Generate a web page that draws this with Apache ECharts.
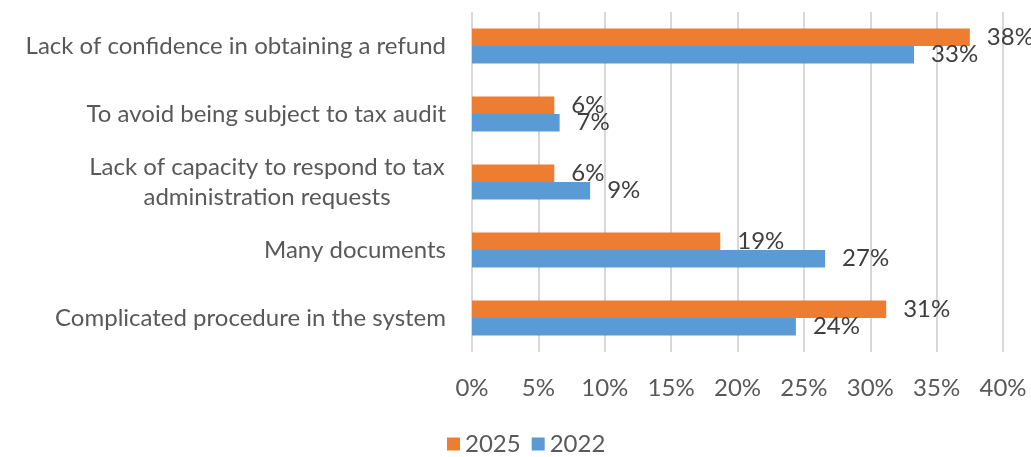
<!DOCTYPE html>
<html>
<head>
<meta charset="utf-8">
<script src="https://cdn.jsdelivr.net/npm/echarts@6/dist/echarts.min.js"></script>
<style>
  html, body { margin: 0; padding: 0; background: #fff; }
  #chart { width: 1031px; height: 457px; }
</style>
</head>
<body>
<div id="chart"></div>
<script>
// categories listed bottom -> top (category axis starts at the bottom)
const categories = [
  'Complicated procedure in the system',
  'Many documents',
  'Lack of capacity to respond to tax\nadministration requests',
  'To avoid being subject to tax audit',
  'Lack of confidence in obtaining a refund'
];
const values2025 = [31.2, 18.7, 6.2, 6.2, 37.5];
const values2022 = [24.4, 26.6, 8.9, 6.6, 33.3];
const xTicks = {min: 0, max: 40, step: 5};

const FONT = 'Lato';
const FS = 24;
const chart = echarts.init(document.getElementById('chart'));

// width of the wrapped label's first line, so both lines can be centred in one block
const ctx = document.createElement('canvas').getContext('2d');
ctx.font = FS + 'px ' + FONT;
const wrapWidth = Math.ceil(ctx.measureText('Lack of capacity to respond to tax').width) + 2;

const labelStyle = {
  show: true,
  position: 'right',
  distance: 17,
  color: '#404040',
  fontFamily: FONT,
  fontSize: FS,
  formatter: p => Math.round(p.value) + '%'
};

chart.setOption({
  animation: false,
  textStyle: {fontFamily: FONT},
  grid: {left: 472, right: 28, top: 12, bottom: 105},
  legend: {
    data: ['2025', '2022'],
    left: 447,
    top: 432,
    padding: 0,
    itemWidth: 13,
    itemHeight: 13,
    itemGap: 11,
    icon: 'rect',
    textStyle: {color: '#595959', fontSize: FS, fontFamily: FONT}
  },
  xAxis: {
    type: 'value',
    min: xTicks.min,
    max: xTicks.max,
    interval: xTicks.step,
    axisLine: {show: false},
    axisTick: {show: false},
    splitLine: {lineStyle: {color: '#d9d9d9', width: 2}},
    axisLabel: {
      color: '#595959',
      fontSize: FS,
      margin: 24,
      formatter: '{value}%'
    }
  },
  yAxis: {
    type: 'category',
    data: categories,
    axisLine: {show: false},
    axisTick: {show: false},
    axisLabel: {
      color: '#595959',
      fontSize: FS,
      margin: 26,
      lineHeight: 30,
      formatter: v => v.indexOf('\n') < 0 ? v
        : v.split('\n').map(s => '{c|' + s + '}').join('\n'),
      rich: {
        c: {width: wrapWidth, align: 'center', fontSize: FS, color: '#595959', lineHeight: 30}
      }
    }
  },
  series: [
    {
      name: '2025',
      type: 'bar',
      data: values2025,
      barWidth: 17.5,
      barGap: '0%',
      itemStyle: {color: '#ed7d31'},
      label: labelStyle
    },
    {
      name: '2022',
      type: 'bar',
      data: values2022,
      barWidth: 17.5,
      barGap: '0%',
      itemStyle: {color: '#5b9bd5'},
      label: labelStyle
    }
  ]
});
</script>
</body>
</html>
